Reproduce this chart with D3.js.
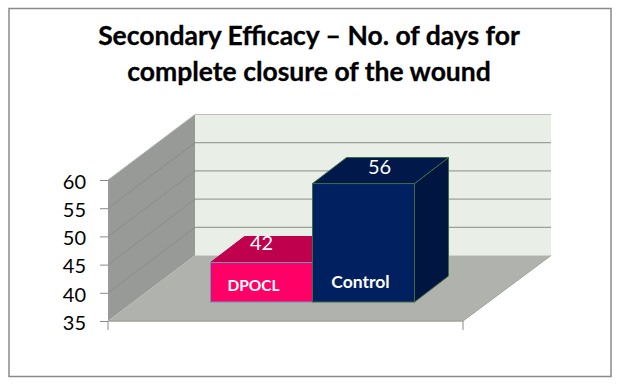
<!DOCTYPE html>
<html lang="en">
<head>
	<meta charset="utf-8">
	<title>Secondary Efficacy</title>
	<script src="https://d3js.org/d3.v7.min.js"></script>
	<style type="text/css">
		html, body { margin: 0; padding: 0; background: #fff; }
		svg { display: block; }
		text { font-family: Lato, Carlito, "Open Sans", sans-serif; }
	</style>
</head>
<body>
	<svg id="chart" width="620" height="384"></svg>
	<script type="text/javascript">
	// data
	const categories = ["DPOCL", "Control"]
	const days = [42, 56]
	const yTicks = [35, 40, 45, 50, 55, 60]
	const titleLines = ["Secondary Efficacy – No. of days for", "complete closure of the wound"]

	// colors, front / top / side / edge
	const barColors = [
		{front: "#ff0066", top: "#bf004c", side: "#a00040", edge: "#5f9bc8"},
		{front: "#002060", top: "#00184a", side: "#001540", edge: "#3f6b45"}
	]

	const svg = d3.select("#chart")

	// plot box (front plane of the floor) and 3d depth
	const plotL = 108, plotR = 463, plotB = 321, plotT = 180
	const depthX = 87, depthY = 65.5
	// bars stand part way into the floor
	const barInX = 27, barInY = 19
	const barDepthX = 34, barDepthY = 26

	const y = d3.scaleLinear().domain([35, 60]).range([plotB, plotT])
	const x = d3.scaleBand().domain(categories)
		.range([plotL + barInX, plotR + barInX])
		.paddingInner(0).paddingOuter(0.74)

	const poly = pts => pts.map(p => p.join(",")).join(" ")

	// outer frame
	svg.append("rect").attr("x", 9).attr("y", 8.5).attr("width", 602).attr("height", 368)
		.attr("fill", "#fff").attr("stroke", "#8a8a8a").attr("stroke-width", 1.5)

	// title
	svg.selectAll(".title").data(titleLines).enter().append("text")
		.attr("class", "title")
		.attr("x", 309)
		.attr("y", (d, i) => 45 + i * 35.5)
		.attr("text-anchor", "middle")
		.attr("font-size", 26.5)
		.attr("font-weight", 700)
		.attr("fill", "#000")
		.attr("stroke", "#000")
		.attr("stroke-width", 0.3)
		.text(d => d)

	// back wall
	svg.append("rect")
		.attr("x", plotL + depthX).attr("y", plotT - depthY)
		.attr("width", plotR - plotL + 1).attr("height", plotB - plotT)
		.attr("fill", "#e9eee6")

	// side wall
	svg.append("polygon")
		.attr("points", poly([[plotL, plotT], [plotL + depthX, plotT - depthY], [plotL + depthX, plotB - depthY], [plotL, plotB]]))
		.attr("fill", "#989a97")

	// floor
	svg.append("polygon")
		.attr("points", poly([[plotL, plotB], [plotR, plotB], [plotR + depthX + 1, plotB - depthY], [plotL + depthX, plotB - depthY]]))
		.attr("fill", "#b0b2ad")

	// gridlines on back wall and side wall
	svg.selectAll(".gridBack").data(yTicks.slice(1)).enter().append("line")
		.attr("class", "gridBack")
		.attr("x1", plotL + depthX).attr("x2", plotR + depthX + 1)
		.attr("y1", d => y(d) - depthY).attr("y2", d => y(d) - depthY)
		.attr("stroke", d => d === 60 ? "#bcbebb" : "#9d9f9b").attr("stroke-width", 1.2)

	svg.selectAll(".gridSide").data(yTicks.slice(1)).enter().append("line")
		.attr("class", "gridSide")
		.attr("x1", plotL).attr("x2", plotL + depthX)
		.attr("y1", d => y(d)).attr("y2", d => y(d) - depthY)
		.attr("stroke", d => d === 60 ? "#b5b7b4" : "#8b8d8a").attr("stroke-width", 1)

	// floor edges
	svg.append("line").attr("x1", plotL).attr("x2", plotR).attr("y1", plotB).attr("y2", plotB)
		.attr("stroke", "#a0a29d").attr("stroke-width", 1.5)
	svg.append("line").attr("x1", plotR).attr("x2", plotR + depthX + 1).attr("y1", plotB).attr("y2", plotB - depthY)
		.attr("stroke", "#a0a29d").attr("stroke-width", 1)

	// y axis ticks and labels
	const yAxis = d3.axisLeft(y).tickValues(yTicks).tickSize(8).tickPadding(14)
	const gAxis = svg.append("g").attr("transform", "translate(" + plotL + ",0)").call(yAxis)
	gAxis.select(".domain").remove()
	gAxis.selectAll("line").attr("stroke", "#8a8a8a")
	gAxis.selectAll("text")
		.attr("font-size", 20)
		.attr("dy", "0.41em")
		.attr("fill", "#000")
		.style("font-family", "Lato, Carlito, sans-serif")

	// bottom corner ticks
	svg.selectAll(".xTick").data([plotL, plotR]).enter().append("line")
		.attr("class", "xTick")
		.attr("x1", d => d).attr("x2", d => d)
		.attr("y1", plotB).attr("y2", plotB + 9)
		.attr("stroke", "#8a8a8a")

	// bars
	const bars = svg.selectAll(".bar").data(categories).enter().append("g").attr("class", "bar")

	const barBox = (d, i) => {
		const x0 = x(d), x1 = x0 + x.bandwidth()
		const y0 = y(days[i]) - barInY, y1 = plotB - barInY
		return {x0, x1, y0, y1}
	}

	bars.append("polygon") // side
		.attr("points", (d, i) => {
			const b = barBox(d, i)
			return poly([[b.x1, b.y0], [b.x1 + barDepthX, b.y0 - barDepthY], [b.x1 + barDepthX, b.y1 - barDepthY], [b.x1, b.y1]])
		})
		.attr("fill", (d, i) => barColors[i].side)
		.attr("stroke", (d, i) => barColors[i].edge)

	bars.append("polygon") // top
		.attr("points", (d, i) => {
			const b = barBox(d, i)
			return poly([[b.x0, b.y0], [b.x1, b.y0], [b.x1 + barDepthX, b.y0 - barDepthY], [b.x0 + barDepthX, b.y0 - barDepthY]])
		})
		.attr("fill", (d, i) => barColors[i].top)
		.attr("stroke", (d, i) => i === 0 ? barColors[i].top : barColors[i].edge)

	bars.append("rect") // front
		.attr("x", (d, i) => barBox(d, i).x0)
		.attr("y", (d, i) => barBox(d, i).y0)
		.attr("width", x.bandwidth())
		.attr("height", (d, i) => barBox(d, i).y1 - barBox(d, i).y0)
		.attr("fill", (d, i) => barColors[i].front)
		.attr("stroke", (d, i) => barColors[i].edge)

	// value labels on the top faces
	bars.append("text")
		.attr("x", (d, i) => x(d) + x.bandwidth() / 2 + (i === 0 ? 0 : 16))
		.attr("y", (d, i) => barBox(d, i).y0 - (i === 0 ? 13 : 10))
		.attr("text-anchor", "middle")
		.attr("font-size", 20)
		.attr("fill", "#fff")
		.text((d, i) => days[i])

	// category names inside the front faces
	bars.append("text")
		.attr("x", (d, i) => x(d) + x.bandwidth() / 2 + (i === 0 ? -8 : -3))
		.attr("y", (d, i) => plotB - barInY - (i === 0 ? 11 : 14))
		.attr("text-anchor", "middle")
		.attr("font-size", (d, i) => i === 0 ? 15.5 : 17.5)
		.attr("font-weight", 700)
		.attr("fill", "#fff")
		.text(d => d)
	</script>
</body>
</html>
